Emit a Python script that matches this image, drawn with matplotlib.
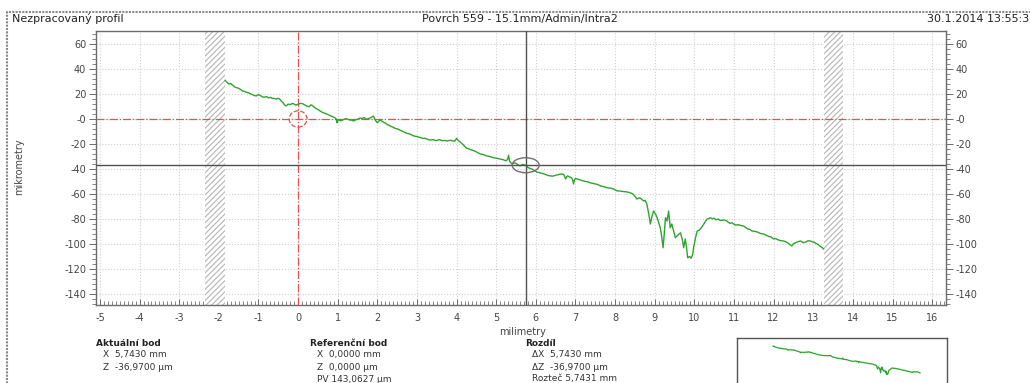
import numpy as np
import matplotlib.pyplot as plt
from matplotlib.patches import Ellipse, Rectangle
from matplotlib.ticker import MultipleLocator, FixedLocator

# Profile points: position (mm) and height (um)
pos_mm = [
    -1.84, -1.80, -1.75, -1.70, -1.65, -1.60, -1.55, -1.50, -1.45, -1.40,
    -1.35, -1.30, -1.25, -1.20, -1.15, -1.10, -1.05, -1.00, -0.95, -0.90,
    -0.85, -0.80, -0.75, -0.70, -0.65, -0.60, -0.55, -0.50, -0.45, -0.42,
    -0.38, -0.34, -0.30, -0.25, -0.20, -0.15, -0.10, -0.06, -0.02, 0.03,
    0.08, 0.13, 0.18, 0.23, 0.28, 0.32, 0.36, 0.40, 0.45, 0.50,
    0.55, 0.59, 0.63, 0.68, 0.72, 0.77, 0.82, 0.87, 0.93, 0.96,
    0.98, 1.00, 1.03, 1.07, 1.10, 1.15, 1.20, 1.25, 1.30, 1.35,
    1.40, 1.45, 1.50, 1.54, 1.58, 1.62, 1.65, 1.69, 1.72, 1.76,
    1.80, 1.85, 1.90, 1.93, 1.96, 2.00, 2.03, 2.07, 2.11, 2.15,
    2.20, 2.25, 2.30, 2.35, 2.40, 2.45, 2.50, 2.55, 2.60, 2.65,
    2.70, 2.75, 2.80, 2.85, 2.90, 2.95, 3.00, 3.05, 3.10, 3.15,
    3.20, 3.25, 3.30, 3.35, 3.40, 3.45, 3.50, 3.55, 3.60, 3.65,
    3.70, 3.75, 3.80, 3.85, 3.90, 3.95, 4.00, 4.03, 4.05, 4.10,
    4.15, 4.20, 4.26, 4.30, 4.35, 4.40, 4.45, 4.52, 4.60, 4.67,
    4.75, 4.84, 4.93, 5.01, 5.10, 5.18, 5.25, 5.29, 5.31, 5.34,
    5.40, 5.45, 5.50, 5.55, 5.60, 5.67, 5.74, 5.80, 5.85, 5.90,
    5.95, 6.03, 6.09, 6.15, 6.20, 6.25, 6.30, 6.36, 6.43, 6.50,
    6.56, 6.62, 6.70, 6.73, 6.75, 6.78, 6.80, 6.85, 6.90, 6.93,
    6.95, 6.97, 7.00, 7.05, 7.10, 7.17, 7.25, 7.31, 7.37, 7.44,
    7.50, 7.56, 7.63, 7.72, 7.80, 7.88, 7.96, 8.05, 8.12, 8.20,
    8.29, 8.38, 8.45, 8.50, 8.55, 8.62, 8.67, 8.72, 8.76, 8.80,
    8.85, 8.89, 8.93, 8.97, 9.02, 9.06, 9.10, 9.14, 9.18, 9.21,
    9.24, 9.27, 9.31, 9.35, 9.39, 9.43, 9.48, 9.52, 9.58, 9.65,
    9.70, 9.73, 9.77, 9.80, 9.83, 9.88, 9.92, 9.96, 9.98, 10.03,
    10.07, 10.11, 10.15, 10.22, 10.27, 10.32, 10.36, 10.40, 10.45, 10.49,
    10.55, 10.60, 10.65, 10.70, 10.76, 10.82, 10.86, 10.90, 10.95, 10.99,
    11.05, 11.10, 11.17, 11.24, 11.30, 11.35, 11.40, 11.45, 11.52, 11.60,
    11.67, 11.75, 11.82, 11.88, 11.94, 12.00, 12.05, 12.10, 12.17, 12.25,
    12.30, 12.35, 12.40, 12.46, 12.50, 12.55, 12.62, 12.68, 12.74, 12.80,
    12.87, 12.93, 12.98, 13.02, 13.06, 13.10, 13.14, 13.18, 13.22, 13.26,
]
height_um = [
    31.0, 29.5, 28.0, 28.4, 27.0, 25.6, 25.0, 24.6, 23.5, 22.4,
    22.0, 21.3, 21.0, 20.1, 19.5, 18.7, 18.5, 19.6, 18.8, 17.6,
    17.5, 17.9, 17.0, 17.3, 16.5, 16.4, 16.0, 16.6, 15.5, 14.1,
    13.0, 11.2, 10.5, 11.9, 11.5, 12.4, 12.0, 11.1, 11.6, 12.2,
    12.5, 12.0, 11.0, 10.2, 9.8, 11.3, 10.8, 9.7, 8.5, 7.6,
    6.5, 5.8, 5.0, 4.6, 4.0, 3.2, 2.5, 1.9, 1.0, 0.2,
    -3.0, -1.7, -0.5, -1.4, -1.2, -0.4, 0.3, -0.2, -0.8, -0.9,
    -1.6, -0.7, -0.2, 0.5, 0.8, 0.1, 1.2, 0.7, -0.3, 0.2,
    0.6, 1.3, 2.4, 0.4, -1.5, -3.0, -1.8, -1.0, -1.6, -2.5,
    -3.2, -4.5, -5.1, -6.0, -6.6, -7.5, -7.9, -8.5, -9.4, -10.0,
    -10.9, -11.5, -11.8, -12.5, -13.3, -13.8, -14.0, -14.5, -15.1, -15.5,
    -15.4, -16.0, -16.6, -16.8, -16.5, -17.0, -17.3, -16.5, -16.9, -17.4,
    -17.1, -17.6, -17.3, -17.0, -17.5, -17.8, -15.5, -16.8, -17.5, -18.6,
    -20.0, -21.8, -23.5, -23.8, -24.5, -25.0, -25.5, -26.7, -28.0, -28.4,
    -29.5, -30.0, -31.0, -31.4, -32.0, -32.6, -33.5, -32.0, -29.0, -34.0,
    -36.0, -35.1, -35.5, -36.6, -37.5, -36.3, -37.0, -38.8, -39.5, -40.0,
    -41.0, -42.5, -42.9, -43.5, -43.8, -44.5, -45.1, -45.5, -45.7, -45.0,
    -44.6, -44.0, -44.3, -46.2, -48.0, -46.1, -45.5, -46.4, -47.0, -48.6,
    -52.0, -49.3, -47.5, -48.1, -48.5, -49.3, -50.0, -50.2, -51.0, -51.5,
    -52.0, -52.4, -53.5, -54.2, -55.0, -55.3, -56.0, -57.5, -57.6, -58.0,
    -58.3, -59.0, -60.0, -61.8, -64.0, -63.0, -64.2, -65.6, -65.1, -68.0,
    -76.0, -84.0, -78.0, -73.6, -76.0, -79.0, -83.0, -87.0, -95.0, -103.0,
    -92.0, -79.0, -81.6, -73.6, -87.0, -84.0, -90.0, -95.0, -93.0, -91.0,
    -97.0, -103.0, -96.0, -102.0, -111.0, -110.0, -111.4, -108.0, -103.0, -95.0,
    -89.6, -89.2, -88.0, -85.0, -82.3, -80.0, -79.6, -79.0, -79.8, -79.4,
    -80.6, -80.0, -81.2, -81.0, -80.8, -81.6, -82.7, -83.5, -82.9, -84.0,
    -84.9, -84.5, -85.2, -85.6, -86.9, -88.0, -88.3, -89.6, -89.8, -90.5,
    -91.6, -92.0, -93.1, -94.0, -94.4, -96.0, -95.6, -96.5, -97.3, -97.6,
    -98.1, -99.0, -100.2, -101.6, -99.8, -99.0, -98.1, -97.6, -98.9, -98.5,
    -97.4, -97.6, -98.3, -98.5, -99.4, -100.0, -100.8, -102.0, -102.6, -104.0,
]

x_ticks = list(range(-5, 17))
y_ticks = [60, 40, 20, 0, -20, -40, -60, -80, -100, -120, -140]
y_tick_labels = ['60', '40', '20', '-0', '-20', '-40', '-60', '-80',
                 '-100', '-120', '-140']

# cursor / reference points and excluded zones
cursor_x, cursor_z = 5.743, -36.97
ref_x, ref_z = 0.0, 0.0
excluded = [(-2.35, -1.85), (13.27, 13.75)]

W, H = 1030, 383
plt.rcParams['axes.unicode_minus'] = False
plt.rcParams['hatch.color'] = '#b5b5b5'
plt.rcParams['hatch.linewidth'] = 0.8
fig = plt.figure(figsize=(W / 100, H / 100), dpi=100)


def px(x, y):
    return x / W, 1 - y / H


green = '#2fa32f'
tick_col = '#555555'

ax = fig.add_axes([96 / W, 1 - 305 / H, 850 / W, 274 / H])
ax.set_xlim(-5.1, 16.35)
ax.set_ylim(-148.8, 70.4)

for a, b in excluded:
    ax.axvspan(a, b, facecolor='white', edgecolor='#b5b5b5', hatch='//////',
               linewidth=0, zorder=1)

ax.plot(pos_mm, height_um, color=green, linewidth=1.0, zorder=4)

ax.axhline(ref_z, color='#e8504f', linestyle='-.', linewidth=0.9, zorder=3)
ax.axvline(ref_x, color='#e8504f', linestyle='-.', linewidth=0.9, zorder=3)
ax.add_patch(Ellipse((ref_x, ref_z), 0.45, 13, fill=False, edgecolor='#e8504f',
                     linestyle='--', linewidth=0.9, zorder=3))
ax.axhline(cursor_z, color='#505050', linewidth=1.0, zorder=5)
ax.axvline(cursor_x, color='#505050', linewidth=1.0, zorder=5)
ax.add_patch(Ellipse((cursor_x, cursor_z), 0.68, 12, fill=False,
                     edgecolor='#707070', linewidth=1.0, zorder=5))

ax.xaxis.set_major_locator(FixedLocator(x_ticks))
ax.xaxis.set_minor_locator(MultipleLocator(0.1))
ax.set_yticks(y_ticks)
ax.set_yticklabels(y_tick_labels)
ax.yaxis.set_minor_locator(MultipleLocator(4))
ax.grid(True, which='major', color='#cfcfcf', linestyle=':', linewidth=0.8)
ax.set_axisbelow(True)

ax.tick_params(axis='x', which='both', direction='in', colors=tick_col,
               labelsize=7, labelcolor='#444444', pad=6)
ax.tick_params(axis='x', which='major', length=4, width=0.6)
ax.tick_params(axis='x', which='minor', length=3, width=0.5)
ax.tick_params(axis='y', which='both', direction='out', colors=tick_col,
               labelsize=7, labelcolor='#444444', left=True, right=True,
               labelleft=True, labelright=True, pad=2)
ax.tick_params(axis='y', which='major', length=5, width=0.6)
ax.tick_params(axis='y', which='minor', length=3, width=0.5)
for s in ax.spines.values():
    s.set_color('#6a6a6a')
    s.set_linewidth(1.0)

fig.text(*px(523, 332), 'milimetry', fontsize=7, color='#444444',
         ha='center', va='center')
fig.text(*px(19, 167), 'mikrometry', fontsize=7, color='#444444',
         ha='center', va='center', rotation=90)

# outer frame and header
fig.patches.append(Rectangle(px(7, 400), 1040 / W, 388 / H, fill=False,
                             edgecolor='#8a8a8a', linewidth=1.5,
                             linestyle=(0, (1, 0.6)),
                             transform=fig.transFigure, figure=fig))
fig.text(*px(12, 19), 'Nezpracovaný profil', fontsize=8, color='#222222',
         ha='left', va='center')
fig.text(*px(520, 19), 'Povrch 559 - 15.1mm/Admin/Intra2', fontsize=8,
         color='#222222', ha='center', va='center')
fig.text(*px(1029, 19), '30.1.2014 13:55:3', fontsize=8, color='#222222',
         ha='right', va='center')

# point info blocks
blocks = [
    (96, 'Aktuální bod', ['X  5,7430 mm', 'Z  -36,9700 µm']),
    (310, 'Referenční bod', ['X  0,0000 mm', 'Z  0,0000 µm', 'PV 143,0627 µm']),
    (525, 'Rozdíl', ['ΔX  5,7430 mm', 'ΔZ  -36,9700 µm', 'Rozteč 5,7431 mm']),
]
for bx, title, lines in blocks:
    fig.text(*px(bx, 343), title, fontsize=6.5, fontweight='bold',
             color='#222222', ha='left', va='center')
    for i, line in enumerate(lines):
        fig.text(*px(bx + 7, 355 + 12 * i), line, fontsize=6.5,
                 color='#333333', ha='left', va='center')

# overview of the whole profile
inset = fig.add_axes([737 / W, 1 - 395 / H, 210 / W, 57 / H])
inset.plot(pos_mm, height_um, color=green, linewidth=0.9)
inset.set_xlim(-5.54, 16.03)
inset.set_ylim(-214, 71)
inset.set_xticks([])
inset.set_yticks([])
for s in inset.spines.values():
    s.set_color('#555555')
    s.set_linewidth(1.0)

fig.savefig('out.png', dpi=100)
